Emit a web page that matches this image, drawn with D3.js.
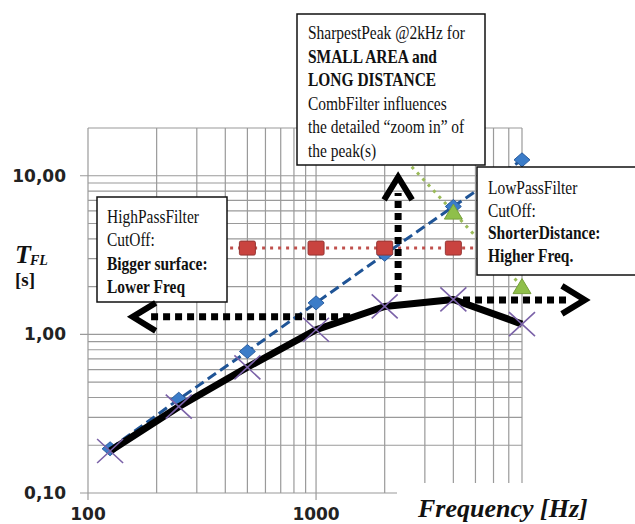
<!DOCTYPE html>
<html><head><meta charset="utf-8">
<script src="https://cdn.jsdelivr.net/npm/d3@7"></script>
<style>body{margin:0;background:#fff}svg{display:block}</style>
</head><body>
<svg id="c" width="635" height="524"></svg>
<script>
// ---- data ----
const freqs = [125, 250, 500, 1000, 2000, 4000, 8000];
const blueVals = [0.19, 0.39, 0.78, 1.58, 3.2, 6.4, 12.6];
const redVals = [3.5, 3.5, 3.5, 3.5, 3.5, 3.5, 3.5];
const greenVals = [null, null, null, null, 17.5, 5.9, 2.0];
const blackVals = [0.184, 0.35, 0.62, 1.07, 1.5, 1.66, 1.16];
const xTickLabels = [[100, "100"], [1000, "1000"]];
const yTickLabels = [[0.1, "0,10"], [1, "1,00"], [10, "10,00"]];
const xGrid = [100,200,300,400,500,600,700,800,900,1000,2000,3000,4000,5000,6000,7000,8000];
const yGrid = [0.1,0.2,0.3,0.4,0.5,0.6,0.7,0.8,0.9,1,2,3,4,5,6,7,8,9,10,20];
// annotation arrows in data units: [fromFreq, fromVal, toFreq, toVal]
const arrows = [[1410, 1.29, 157, 1.29], [4410, 1.65, 15100, 1.65], [2290, 1.85, 2290, 9.83]];
const sharpText = [["SharpestPeak @2kHz for", false], ["SMALL AREA and", true], ["LONG DISTANCE", true],
  ["CombFilter influences", false], ["the detailed \u201czoom in\u201d of", false], ["the peak(s)", false]];
const highText = [["HighPassFilter", false], ["CutOff:", false], ["Bigger surface:", true], ["Lower Freq", true]];
const lowText = [["LowPassFilter", false], ["CutOff:", false], ["ShorterDistance:", true], ["Higher Freq.", true]];

const svg = d3.select("#c");
const x = d3.scaleLog().domain([100, 8000]).range([88, 522]);
const y = d3.scaleLog().domain([0.1, 20]).range([493, 128]);
const gridColor = "#9a9a9a";

// grid
const g = svg.append("g");
g.selectAll("line.v").data(xGrid).join("line")
  .attr("x1", d => x(d)).attr("x2", d => x(d))
  .attr("y1", y(20)).attr("y2", d => (d === 100 || d === 1000) ? 500 : y(0.1))
  .attr("stroke", gridColor).attr("stroke-width", 1.2);
g.selectAll("line.h").data(yGrid).join("line")
  .attr("y1", d => y(d)).attr("y2", d => y(d))
  .attr("x1", d => [0.1, 1, 10].includes(d) ? 80 : x(100)).attr("x2", x(8000))
  .attr("stroke", gridColor).attr("stroke-width", 1.2);

// white cover bottom-right (axis title box)
svg.append("rect").attr("x", 397).attr("y", 483).attr("width", 240).attr("height", 45).attr("fill", "#fff");

// tick labels
svg.selectAll("text.yt").data(yTickLabels).join("text")
  .attr("x", 66).attr("y", d => y(d[0]) + 6).attr("text-anchor", "end")
  .attr("font-family", "DejaVu Sans").attr("font-weight", "bold").attr("font-size", 17).attr("fill", "#222")
  .text(d => d[1]);
svg.selectAll("text.xt").data(xTickLabels).join("text")
  .attr("x", d => x(d[0])).attr("y", 519.5).attr("text-anchor", "middle")
  .attr("font-family", "DejaVu Sans").attr("font-weight", "bold").attr("font-size", 17).attr("fill", "#222")
  .text(d => d[1]);

const pts = vals => freqs.map((f, i) => [f, vals[i]]).filter(d => d[1] != null);
const line = d3.line().x(d => x(d[0])).y(d => y(d[1]));

// series lines
svg.append("path").attr("d", line(pts(greenVals))).attr("fill", "none")
  .attr("stroke", "#9bbb59").attr("stroke-width", 3).attr("stroke-dasharray", "3,5");
svg.append("path").attr("d", line(pts(redVals))).attr("fill", "none")
  .attr("stroke", "#c0504d").attr("stroke-width", 3).attr("stroke-dasharray", "3,5");
svg.append("path").attr("d", line(pts(blueVals))).attr("fill", "none")
  .attr("stroke", "#1f5496").attr("stroke-width", 3).attr("stroke-dasharray", "10,5");

// blue diamonds
svg.selectAll("path.bd").data(pts(blueVals)).join("path")
  .attr("transform", d => `translate(${x(d[0])},${y(d[1])})`)
  .attr("d", "M0,-7L8,0L0,7L-8,0Z").attr("fill", "#3b7cc8").attr("stroke", "#2a5d9f");
// red squares
svg.selectAll("rect.rs").data(pts(redVals)).join("rect")
  .attr("x", d => x(d[0]) - 8).attr("y", d => y(d[1]) - 7).attr("width", 16).attr("height", 14)
  .attr("rx", 1.5).attr("fill", "#c9433f").attr("stroke", "#943634");
// green triangles
svg.selectAll("path.gt").data(pts(greenVals)).join("path")
  .attr("transform", d => `translate(${x(d[0])},${y(d[1])})`)
  .attr("d", "M0,-8L9,7L-9,7Z").attr("fill", "#8fbf4a").attr("stroke", "#76a03a");

// black line
svg.append("path").attr("d", line(pts(blackVals))).attr("fill", "none")
  .attr("stroke", "#000").attr("stroke-width", 7).attr("stroke-linejoin", "round");
// purple X markers
svg.selectAll("path.px").data(pts(blackVals)).join("path")
  .attr("transform", d => `translate(${x(d[0])},${y(d[1])})`)
  .attr("d", "M-13,-12L13,12M-13,12L13,-12").attr("stroke", "#7b62a8").attr("stroke-width", 1.6);

// text boxes
function box(bx, by, bw, bh, lines, tx, ty0, dy) {
  svg.append("rect").attr("x", bx).attr("y", by).attr("width", bw).attr("height", bh)
    .attr("fill", "#fff").attr("stroke", "#111").attr("stroke-width", 1.5);
  lines.forEach((l, i) => {
    svg.append("text").attr("transform", `translate(${tx},${ty0 + i * dy}) scale(0.86,1)`)
      .attr("font-family", "Liberation Serif, Times New Roman, serif").attr("font-size", 18)
      .attr("font-weight", l[1] ? "bold" : "normal").attr("fill", "#111").text(l[0]);
  });
}
box(297, 14, 188, 151, sharpText, 308, 39, 23.5);
box(97, 197, 130, 105, highText, 107, 223, 23.3);
box(477, 167, 170, 108, lowText, 488, 194, 22.7);

// arrows
arrows.forEach(a => {
  const x1 = x(a[0]), y1 = y(a[1]), x2 = x(a[2]), y2 = y(a[3]);
  const ang = Math.atan2(y2 - y1, x2 - x1);
  const ux = Math.cos(ang), uy = Math.sin(ang);
  svg.append("line").attr("x1", x1).attr("y1", y1).attr("x2", x2 - ux * 16).attr("y2", y2 - uy * 16)
    .attr("stroke", "#000").attr("stroke-width", 7).attr("stroke-dasharray", "7,5");
  const back = 23, spread = 14;
  const bx = x2 - ux * back, by = y2 - uy * back;
  svg.append("path")
    .attr("d", `M${bx - uy * spread},${by + ux * spread}L${x2},${y2}L${bx + uy * spread},${by - ux * spread}`)
    .attr("fill", "none").attr("stroke", "#000").attr("stroke-width", 6).attr("stroke-linejoin", "miter");
});

// axis titles
const tfl = svg.append("text").attr("x", 15).attr("y", 263)
  .attr("font-family", "Liberation Serif, serif").attr("font-weight", "bold").attr("font-style", "italic").attr("fill", "#111");
tfl.append("tspan").attr("font-size", 26).text("T");
tfl.append("tspan").attr("font-size", 14).attr("dx", -1).attr("dy", 2).text("FL");
svg.append("text").attr("x", 15).attr("y", 286).attr("font-family", "Liberation Serif, serif")
  .attr("font-weight", "bold").attr("font-size", 19).attr("fill", "#111").text("[s]");
svg.append("text").attr("x", 418).attr("y", 517).attr("font-family", "Liberation Serif, serif")
  .attr("font-weight", "bold").attr("font-style", "italic").attr("font-size", 26).attr("fill", "#111")
  .text("Frequency [Hz]");
</script>
</body></html>
